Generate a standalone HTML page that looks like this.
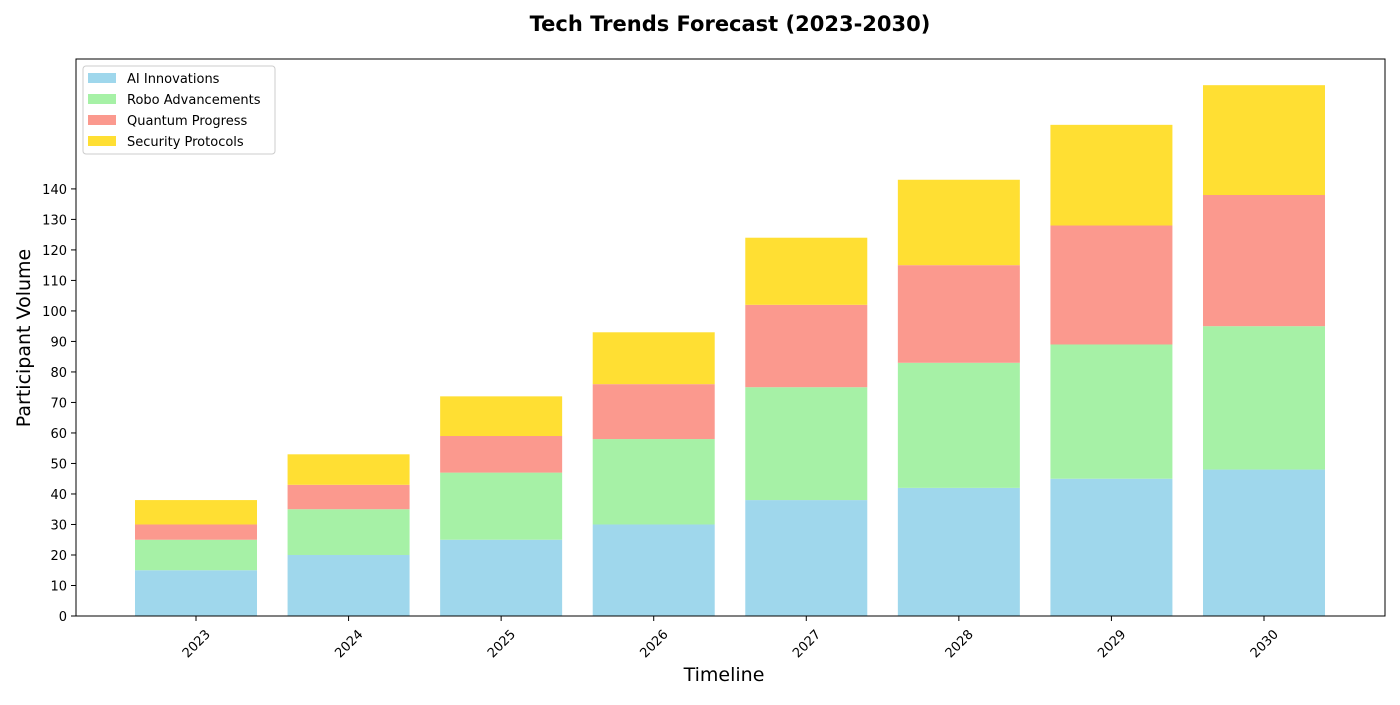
<!DOCTYPE html>
<html><head><meta charset="utf-8"><style>
body{margin:0;background:#fff;}
svg{font-family:"DejaVu Sans","Liberation Sans",sans-serif;}
</style></head><body>
<svg id="chart" width="1400" height="700">
<text x="730" y="31" text-anchor="middle" font-size="21" font-weight="bold">Tech Trends Forecast (2023-2030)</text>
<g id="bars"></g>
<g id="axes"></g>
<rect x="76" y="59" width="1309" height="557" fill="none" stroke="#000" stroke-width="1"/>
<text x="724" y="681" text-anchor="middle" font-size="19">Timeline</text>
<text transform="translate(30,338) rotate(-90)" text-anchor="middle" font-size="19">Participant Volume</text>
<g id="legend">
<rect x="83" y="66" width="192" height="88" rx="3" fill="#fff" stroke="#ccc"/>
</g>
</svg>
<script>
const categories=["2023","2024","2025","2026","2027","2028","2029","2030"];
const aiValues=[15,20,25,30,38,42,45,48];
const roboValues=[10,15,22,28,37,41,44,47];
const quantumValues=[5,8,12,18,27,32,39,43];
const securityValues=[8,10,13,17,22,28,33,36];
const seriesNames=["AI Innovations","Robo Advancements","Quantum Progress","Security Protocols"];
const yTicks=[0,10,20,30,40,50,60,70,80,90,100,110,120,130,140];
const colors=["#9fd7ec","#a6f1a6","#fb998e","#ffdf33"];
const NS="http://www.w3.org/2000/svg";
const series=[aiValues,roboValues,quantumValues,securityValues];
function y(v){return 616-v*3.0507;}
function x(i){return 196+i*152.57;}
const bw=122;
const bars=document.getElementById('bars');
categories.forEach((c,i)=>{
  let base=0;
  series.forEach((s,k)=>{
    const r=document.createElementNS(NS,'rect');
    r.setAttribute('x',x(i)-bw/2);r.setAttribute('width',bw);
    r.setAttribute('y',y(base+s[i]));r.setAttribute('height',y(base)-y(base+s[i]));
    r.setAttribute('fill',colors[k]);
    
    
    bars.appendChild(r);
    base+=s[i];
  });
});
const axes=document.getElementById('axes');
yTicks.forEach(t=>{
  const l=document.createElementNS(NS,'line');
  l.setAttribute('x1',71);l.setAttribute('x2',76);l.setAttribute('y1',y(t));l.setAttribute('y2',y(t));l.setAttribute('stroke','#000');
  
  
  axes.appendChild(l);
  const tx=document.createElementNS(NS,'text');
  tx.setAttribute('x',67);tx.setAttribute('y',y(t)+5);tx.setAttribute('text-anchor','end');tx.setAttribute('font-size','13');
  tx.textContent=t;
  
  
  axes.appendChild(tx);
});
categories.forEach((c,i)=>{
  const l=document.createElementNS(NS,'line');
  l.setAttribute('x1',x(i));l.setAttribute('x2',x(i));l.setAttribute('y1',616);l.setAttribute('y2',621);l.setAttribute('stroke','#000');
  
  
  axes.appendChild(l);
  const tx=document.createElementNS(NS,'text');
  tx.setAttribute('transform','translate('+(x(i)+15)+',635) rotate(-45)');
  tx.setAttribute('text-anchor','end');tx.setAttribute('font-size','13');
  tx.textContent=c;
  
  
  axes.appendChild(tx);
});
const lg=document.getElementById('legend');
seriesNames.forEach((n,k)=>{
  const r=document.createElementNS(NS,'rect');
  r.setAttribute('x',88);r.setAttribute('y',73+k*21);r.setAttribute('width',28);r.setAttribute('height',10);r.setAttribute('fill',colors[k]);
  
  
  lg.appendChild(r);
  const t=document.createElementNS(NS,'text');
  t.setAttribute('x',127);t.setAttribute('y',83+k*21);t.setAttribute('font-size','13');
  t.textContent=n;
  
  
  lg.appendChild(t);
});
</script>
</body></html>
